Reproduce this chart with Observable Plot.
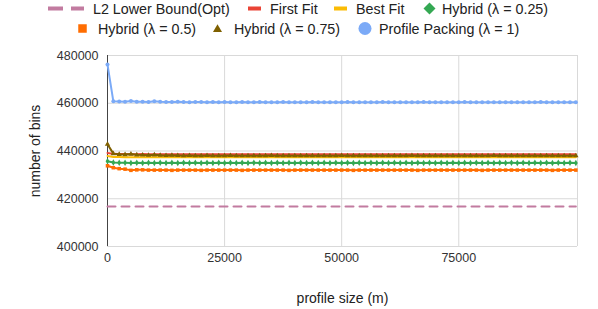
<!DOCTYPE html>
<html><head><meta charset="utf-8">
<script src="https://cdn.jsdelivr.net/npm/d3@7"></script>
<script src="https://cdn.jsdelivr.net/npm/@observablehq/plot@0.6"></script>
<style>
body{margin:0;background:#fff;font-family:"Liberation Sans",Arial,sans-serif;}
#wrap{position:relative;width:598px;height:309px;overflow:hidden;}
#chart{position:absolute;left:0;top:0;}
#legend{position:absolute;left:0;top:0;}
</style></head><body>
<div id="wrap"><div id="chart"></div><svg id="legend" width="598" height="40"></svg></div>
<script>
// profile size (m)
const sizes = [0,1250,2500,3750,5000,6250,7500,8750,10000,11250,12500,13750,15000,16250,17500,18750,20000,21250,22500,23750,25000,26250,27500,28750,30000,31250,32500,33750,35000,36250,37500,38750,40000,41250,42500,43750,45000,46250,47500,48750,50000,51250,52500,53750,55000,56250,57500,58750,60000,61250,62500,63750,65000,66250,67500,68750,70000,71250,72500,73750,75000,76250,77500,78750,80000,81250,82500,83750,85000,86250,87500,88750,90000,91250,92500,93750,95000,96250,97500,98750,100000];

// number of bins, in thousands
const l2Lower = [416.8,416.8,416.8,416.8,416.8,416.8,416.8,416.8,416.8,
416.8,416.8,416.8,416.8,416.8,416.8,416.8,416.8,416.8,
416.8,416.8,416.8,416.8,416.8,416.8,416.8,416.8,416.8,
416.8,416.8,416.8,416.8,416.8,416.8,416.8,416.8,416.8,
416.8,416.8,416.8,416.8,416.8,416.8,416.8,416.8,416.8,
416.8,416.8,416.8,416.8,416.8,416.8,416.8,416.8,416.8,
416.8,416.8,416.8,416.8,416.8,416.8,416.8,416.8,416.8,
416.8,416.8,416.8,416.8,416.8,416.8,416.8,416.8,416.8,
416.8,416.8,416.8,416.8,416.8,416.8,416.8,416.8,416.8];
const firstFit = [439.2,438.8,438.7,438.7,438.6,438.6,438.7,438.6,438.6,
438.6,438.6,438.6,438.6,438.6,438.6,438.6,438.6,438.6,
438.6,438.6,438.6,438.6,438.6,438.6,438.6,438.6,438.6,
438.6,438.6,438.6,438.6,438.6,438.6,438.6,438.6,438.6,
438.6,438.6,438.6,438.6,438.6,438.6,438.6,438.6,438.6,
438.6,438.6,438.6,438.6,438.6,438.6,438.6,438.6,438.6,
438.6,438.6,438.6,438.6,438.6,438.6,438.6,438.6,438.6,
438.6,438.6,438.6,438.6,438.6,438.6,438.6,438.6,438.6,
438.6,438.6,438.6,438.6,438.6,438.6,438.6,438.6,438.6];
const bestFit = [437.9,437.5,437.5,437.4,437.4,437.4,437.4,437.4,437.4,
437.4,437.4,437.4,437.4,437.4,437.4,437.4,437.4,437.4,
437.4,437.4,437.4,437.4,437.4,437.4,437.4,437.4,437.4,
437.4,437.4,437.4,437.4,437.4,437.4,437.4,437.4,437.4,
437.4,437.4,437.4,437.4,437.4,437.4,437.4,437.4,437.4,
437.4,437.4,437.4,437.4,437.4,437.4,437.4,437.4,437.4,
437.4,437.4,437.4,437.4,437.4,437.4,437.4,437.4,437.4,
437.4,437.4,437.4,437.4,437.4,437.4,437.4,437.4,437.4,
437.4,437.4,437.4,437.4,437.4,437.4,437.4,437.4,437.4];
const hybrid25 = [435.7,435.2,435.1,435.1,435.0,435.1,435.0,435.1,435.0,
435.1,435.0,435.1,435.0,435.1,435.0,435.1,435.0,435.1,
435.0,435.1,435.0,435.1,435.0,435.1,435.0,435.1,435.0,
435.1,435.0,435.1,435.0,435.1,435.0,435.1,435.0,435.1,
435.0,435.1,435.0,435.1,435.0,435.1,435.0,435.1,435.0,
435.1,435.0,435.1,435.0,435.1,435.0,435.1,435.0,435.1,
435.0,435.1,435.0,435.1,435.0,435.1,435.0,435.1,435.0,
435.1,435.0,435.1,435.0,435.1,435.0,435.1,435.0,435.1,
435.0,435.1,435.0,435.1,435.0,435.1,435.0,435.1,435.0];
const hybrid50 = [433.8,433.0,432.6,432.4,431.9,432.1,432.1,432.0,432.0,
432.0,432.0,431.9,432.0,432.0,432.0,432.0,431.9,432.0,
432.0,432.0,432.0,432.0,432.0,431.9,432.0,432.0,432.0,
432.0,432.0,432.0,432.0,431.9,432.0,432.0,432.0,432.0,
432.0,432.0,432.0,432.0,432.0,432.0,431.9,432.0,432.0,
432.0,432.0,432.0,432.0,432.0,432.0,432.0,432.0,431.9,
432.0,432.0,432.0,432.0,432.0,432.0,432.0,432.0,432.0,
432.0,431.9,432.0,432.0,432.0,432.0,432.0,432.0,432.0,
432.0,432.0,432.0,432.0,431.9,432.0,432.0,432.0,432.0];
const hybrid75 = [442.8,438.9,438.6,438.5,438.7,438.4,438.3,438.2,438.4,
438.2,438.1,438.2,438.1,438.0,438.1,438.0,438.0,438.1,
438.0,438.0,438.0,438.1,438.0,438.0,438.0,438.0,438.0,
438.0,438.1,438.0,438.0,438.0,438.0,438.0,438.0,438.0,
438.0,438.0,438.0,438.0,438.1,438.0,438.0,438.0,438.0,
438.0,438.0,438.0,438.0,438.0,438.0,438.0,438.1,438.0,
438.0,438.0,438.0,438.0,438.0,438.0,438.0,438.0,438.0,
438.0,438.0,438.0,438.1,438.0,438.0,438.0,438.0,438.0,
438.0,438.0,438.0,438.0,438.0,438.0,438.0,438.0,438.0];
const profilePacking = [476.2,460.8,460.7,460.6,460.9,460.6,460.6,460.5,460.8,
460.6,460.5,460.5,460.6,460.5,460.4,460.5,460.5,460.4,
460.5,460.4,460.5,460.4,460.4,460.5,460.4,460.4,460.5,
460.4,460.4,460.4,460.5,460.4,460.4,460.4,460.4,460.5,
460.4,460.4,460.4,460.4,460.4,460.5,460.4,460.4,460.4,
460.4,460.4,460.5,460.4,460.4,460.4,460.4,460.4,460.4,
460.5,460.4,460.4,460.4,460.4,460.4,460.4,460.5,460.4,
460.4,460.4,460.4,460.4,460.4,460.4,460.4,460.4,460.4,
460.4,460.4,460.5,460.4,460.4,460.4,460.4,460.4,460.4];

const seriesNames = ["L2 Lower Bound(Opt)","First Fit","Best Fit","Hybrid (λ = 0.25)","Hybrid (λ = 0.5)","Hybrid (λ = 0.75)","Profile Packing (λ = 1)"];
const seriesValues = [l2Lower, firstFit, bestFit, hybrid25, hybrid50, hybrid75, profilePacking];
const seriesColors = ["#c27ba0","#ea4335","#fbbc04","#34a853","#ff6d01","#7f6000","#7baaf7"];
const seriesSymbols = [null, null, null, "diamond", "square", "triangle", "circle"];
const xTicks = [0, 25000, 50000, 75000];
const yTicks = [400000, 420000, 440000, 460000, 480000];
const xMax = 100350;

const tables = seriesValues.map(vals => sizes.map((s, i) => ({size: s, bins: vals[i] * 1000})));

const marks = [
  Plot.gridY(yTicks, {stroke: "#d9d9d9", strokeOpacity: 1}),
  Plot.gridX([25000, 50000, 75000, xMax], {stroke: "#d9d9d9", strokeOpacity: 1}),
  Plot.axisY(yTicks, {tickSize: 0, tickPadding: 9, tickFormat: d => String(d), fill: "#333", label: null}),
  Plot.axisX(xTicks, {tickSize: 0, tickPadding: 7, tickFormat: d => String(d), fill: "#333", label: null}),
  Plot.ruleX([0], {y1: 400000, y2: 480000, stroke: "#444"})
];
tables.forEach((t, k) => {
  marks.push(Plot.line(t, {x: "size", y: "bins", stroke: seriesColors[k], strokeWidth: 2,
    strokeDasharray: k === 0 ? "8,6" : null}));
  if (seriesSymbols[k]) marks.push(Plot.dot(t, {x: "size", y: "bins", symbol: seriesSymbols[k], r: 2, fill: seriesColors[k], stroke: "none"}));
});
marks.push(Plot.text(["profile size (m)"], {frameAnchor: "bottom", lineAnchor: "middle", dy: 52, fontSize: 14, fill: "#222"}));
marks.push(Plot.text(["number of bins"], {frameAnchor: "left", lineAnchor: "middle", textAnchor: "middle", rotate: -90, dx: -72, fontSize: 14, fill: "#222"}));

const chart = Plot.plot({
  width: 598, height: 309,
  marginTop: 55, marginBottom: 63, marginLeft: 107, marginRight: 21,
  style: {fontFamily: "Liberation Sans, Arial, sans-serif", fontSize: "12.5px", background: "transparent", color: "#333"},
  x: {domain: [0, xMax]},
  y: {domain: [400000, 480000]},
  marks
});
document.getElementById("chart").appendChild(chart);

// legend (layout positions)
const legendLayout = [
  {icon: 48, text: 93, cy: 8.5},
  {icon: 248, text: 270, cy: 8.5},
  {icon: 334, text: 356, cy: 8.5},
  {icon: 429.5, text: 442, cy: 8.5},
  {icon: 82.5, text: 98, cy: 28.5},
  {icon: 217.5, text: 234, cy: 28.5},
  {icon: 365, text: 379, cy: 28.5}
];
const lg = d3.select("#legend").style("font-family", "Liberation Sans, Arial, sans-serif");
seriesNames.forEach((name, k) => {
  const L = legendLayout[k], c = seriesColors[k];
  if (k === 0) {
    lg.append("rect").attr("x", L.icon).attr("y", L.cy - 2).attr("width", 15).attr("height", 4).attr("fill", c);
    lg.append("rect").attr("x", L.icon + 23).attr("y", L.cy - 2).attr("width", 13).attr("height", 4).attr("fill", c);
  } else if (!seriesSymbols[k]) {
    lg.append("rect").attr("x", L.icon).attr("y", L.cy - 2).attr("width", 13).attr("height", 4).attr("fill", c);
  } else {
    const sym = {diamond: d3.symbolDiamond2, square: d3.symbolSquare2, triangle: d3.symbolTriangle2, circle: d3.symbolCircle}[seriesSymbols[k]];
    const size = {diamond: 92, square: 92, triangle: 58, circle: 133}[seriesSymbols[k]];
    const dy = seriesSymbols[k] === "triangle" ? 1 : 0;
    lg.append("path").attr("transform", `translate(${L.icon},${L.cy + dy})`).attr("d", d3.symbol(sym, size)()).attr("fill", c);
  }
  lg.append("text").attr("x", L.text).attr("y", L.cy).attr("dy", "0.35em")
    .attr("font-size", 14.3).attr("fill", "#222").text(name);
});
</script>
</body></html>
